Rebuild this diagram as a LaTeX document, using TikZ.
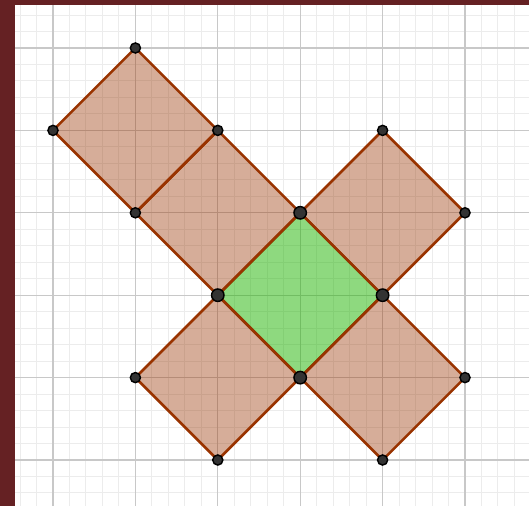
\documentclass[tikz,border=0pt]{standalone}
\begin{document}
\begin{tikzpicture}[x=1cm,y=-1cm,
  edge/.style={draw=sqedge,line width=0.9pt,line join=miter},
  brownsq/.style={edge,fill=sqedge,fill opacity=0.4},
  greensq/.style={edge,fill=greenbase,fill opacity=0.5},
  pt/.style={circle,fill=ptfill,draw=black,line width=0.5pt,inner sep=0pt,minimum size=3.5pt},
  bigpt/.style={pt,minimum size=4.3pt}]
\definecolor{sqedge}{RGB}{153,51,0}
\definecolor{greenbase}{RGB}{30,180,0}
\definecolor{ptfill}{RGB}{51,51,51}
\definecolor{frame}{RGB}{101,33,35}
\definecolor{majorgrid}{RGB}{200,200,200}
\definecolor{minorgrid}{RGB}{236,236,236}
\useasboundingbox (-0.643,-0.5825) rectangle (5.777,5.558);
\fill[white] (-0.643,-0.5825) rectangle (5.777,5.558);
\begin{scope}
\clip (-0.643,-0.5825) rectangle (5.777,5.558);
\foreach \k in {-5,...,30} {
  \draw[minorgrid,line width=0.35pt] (\k/5,-1) -- (\k/5,6);
  \draw[minorgrid,line width=0.35pt] (-1,\k/5) -- (6,\k/5);
}
\foreach \k in {-1,...,6} {
  \draw[majorgrid,line width=0.45pt] (\k,-1) -- (\k,6);
  \draw[majorgrid,line width=0.45pt] (-1,\k) -- (6,\k);
}
\end{scope}
% points
\coordinate (A) at (1,0);
\coordinate (B) at (0,1);
\coordinate (C) at (2,1);
\coordinate (D) at (1,2);
\coordinate (E) at (3,2);
\coordinate (F) at (4,1);
\coordinate (G) at (5,2);
\coordinate (H) at (2,3);
\coordinate (I) at (4,3);
\coordinate (J) at (1,4);
\coordinate (K) at (3,4);
\coordinate (L) at (5,4);
\coordinate (M) at (2,5);
\coordinate (N) at (4,5);
% squares
\path[brownsq] (A) -- (B) -- (D) -- (C) -- cycle;
\path[brownsq] (C) -- (D) -- (H) -- (E) -- cycle;
\path[brownsq] (E) -- (F) -- (G) -- (I) -- cycle;
\path[brownsq] (H) -- (J) -- (M) -- (K) -- cycle;
\path[brownsq] (I) -- (K) -- (N) -- (L) -- cycle;
\path[greensq] (E) -- (H) -- (K) -- (I) -- cycle;
% point markers
\foreach \p in {A,B,C,D,F,G,J,L,M,N} \node[pt] (n\p) at (\p) {};
\foreach \p in {E,H,I,K} \node[bigpt] (n\p) at (\p) {};
% frame
\fill[frame] (-0.643,-0.5825) rectangle (-0.461,5.558);
\fill[frame] (-0.643,-0.5825) rectangle (5.777,-0.522);
\end{tikzpicture}
\end{document}
